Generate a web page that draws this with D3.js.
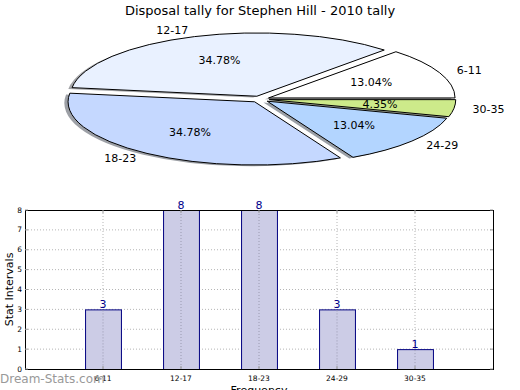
<!DOCTYPE html>
<html><head><meta charset="utf-8">
<script src="https://cdn.jsdelivr.net/npm/d3@7"></script>
<style>
body{margin:0;background:#fff;}
svg{display:block;font-family:"DejaVu Sans",sans-serif;}
</style></head>
<body>
<svg id="c" width="520" height="390"></svg>
<script>
const title = "Disposal tally for Stephen Hill - 2010 tally";
const categories = ["6-11","12-17","18-23","24-29","30-35"];
const counts = [3, 8, 8, 3, 1];
const pieColors = ["#ffffff","#e9f1ff","#c5d8ff","#b3d5ff","#cdea8a"];
const yTicks = [0,1,2,3,4,5,6,7,8];
const xLabel = "Frequency";
const yLabel = "Stat Intervals";
const watermark = "Dream-Stats.com";

const svg = d3.select("#c");
svg.append("rect").attr("width",520).attr("height",390).attr("fill","#fff");

// Title
svg.append("text").attr("x",260).attr("y",15).attr("text-anchor","middle")
  .attr("font-size",13).attr("fill","#000").text(title);

// ---- Pie ----
const cx = 260, cy = 99.2, rx = 186.5, ry = 63.2, explode = 0.05;
const total = d3.sum(counts);
const pie = d3.pie().sort(null).startAngle(Math.PI/2).endAngle(Math.PI/2 - 2*Math.PI);
const arcs = pie(counts);
const unitArc = d3.arc().innerRadius(0).outerRadius(1);

const pg = svg.append("g");
function place(sel, d, extra){
  const m = (d.startAngle + d.endAngle)/2;
  const dx = explode*rx*Math.sin(m) + (extra?extra[0]:0);
  const dy = -explode*ry*Math.cos(m) + (extra?extra[1]:0);
  sel.attr("transform",`translate(${cx+dx},${cy+dy}) scale(${rx},${ry})`);
}
// shadows
arcs.forEach((d,i)=>{
  const c = d3.rgb(pieColors[i]);
  const p = pg.append("path").attr("d", unitArc(d))
    .attr("fill", d3.rgb(c.r*0.3,c.g*0.3,c.b*0.3)).attr("fill-opacity",0.5);
  place(p, d, [-0.02*rx, 0.02*ry]);
});
// wedges
arcs.forEach((d,i)=>{
  const p = pg.append("path").attr("d", unitArc(d))
    .attr("fill", pieColors[i]).attr("stroke","#000").attr("stroke-width",1)
    .attr("vector-effect","non-scaling-stroke");
  place(p, d);
});
// labels
arcs.forEach((d,i)=>{
  const m = (d.startAngle + d.endAngle)/2;
  const ex = explode*rx*Math.sin(m), ey = -explode*ry*Math.cos(m);
  const lx = cx + ex + 1.1*rx*Math.sin(m), ly = cy + ey - 1.1*ry*Math.cos(m);
  pg.append("text").attr("x",lx).attr("y",ly)
    .attr("text-anchor", Math.sin(m) > 0 ? "start" : "end")
    .attr("dominant-baseline","central").attr("font-size",11).text(categories[i]);
  const px = cx + ex + 0.6*rx*Math.sin(m), py = cy + ey - 0.6*ry*Math.cos(m);
  pg.append("text").attr("x",px).attr("y",py).attr("text-anchor","middle")
    .attr("dominant-baseline","central").attr("font-size",11)
    .text((counts[i]/total*100).toFixed(2)+"%");
});

// ---- Bar chart ----
const L=25, R=493, T=210, B=369;
const x = d3.scaleLinear().domain([0, categories.length+1]).range([L,R]);
const y = d3.scaleLinear().domain([0, 8]).range([B,T]);
const bg = svg.append("g");
const bw = 0.46;

// grid
bg.selectAll(".hg").data(yTicks.slice(1,-1)).enter().append("line")
  .attr("x1",L).attr("x2",R).attr("y1",d=>y(d)).attr("y2",d=>y(d))
  .attr("stroke","#b5b5b5").attr("stroke-width",1).attr("stroke-dasharray","1,2");
bg.selectAll(".vg").data(categories).enter().append("line")
  .attr("x1",(d,i)=>x(i+1)).attr("x2",(d,i)=>x(i+1)).attr("y1",T).attr("y2",B)
  .attr("stroke","#b5b5b5").attr("stroke-width",1).attr("stroke-dasharray","1,2");

// bars
bg.selectAll(".bar").data(counts).enter().append("rect")
  .attr("x",(d,i)=>x(i+1-bw/2)+0.5).attr("width",x(bw)-x(0))
  .attr("y",d=>y(d)+0.5).attr("height",d=>y(0)-y(d))
  .attr("fill","#ccccE6").attr("stroke","#000080").attr("stroke-width",1);

// vertical grid over bars (visible through)
bg.selectAll(".vg2").data(counts).enter().append("line")
  .attr("x1",(d,i)=>x(i+1)).attr("x2",(d,i)=>x(i+1)).attr("y1",d=>y(d)+1).attr("y2",B)
  .attr("stroke","#9a9ab0").attr("stroke-width",1).attr("stroke-dasharray","1,2");

// value labels
bg.selectAll(".vl").data(counts).enter().append("text")
  .attr("x",(d,i)=>x(i+1)).attr("y",d=>y(d)-1).attr("text-anchor","middle")
  .attr("font-size",11).attr("fill","#00008b").text(d=>d);

// frame
bg.append("rect").attr("x",L+0.5).attr("y",T+0.5).attr("width",R-L).attr("height",B-T)
  .attr("fill","none").attr("stroke","#000").attr("stroke-width",1);

// y ticks
yTicks.forEach(t=>{
  bg.append("line").attr("x1",L).attr("x2",L+3).attr("y1",y(t)).attr("y2",y(t)).attr("stroke","#999");
  bg.append("line").attr("x1",R-3).attr("x2",R).attr("y1",y(t)).attr("y2",y(t)).attr("stroke","#999");
  bg.append("text").attr("x",L-3).attr("y",y(t)).attr("text-anchor","end")
    .attr("dominant-baseline","central").attr("font-size",7.5).text(t);
});
// x ticks
categories.forEach((c,i)=>{
  bg.append("line").attr("x1",x(i+1)).attr("x2",x(i+1)).attr("y1",B).attr("y2",B-3).attr("stroke","#999");
  bg.append("line").attr("x1",x(i+1)).attr("x2",x(i+1)).attr("y1",T).attr("y2",T+3).attr("stroke","#999");
  bg.append("text").attr("x",x(i+1)).attr("y",B+9).attr("text-anchor","middle")
    .attr("dominant-baseline","central").attr("font-size",7.5).text(c);
});

// axis labels
bg.append("text").attr("transform",`translate(13,${(T+B)/2}) rotate(-90)`)
  .attr("text-anchor","middle").attr("font-size",11).text(yLabel);
bg.append("text").attr("x",(L+R)/2).attr("y",394).attr("text-anchor","middle")
  .attr("font-size",11).text(xLabel);

// watermark
svg.append("text").attr("x",0).attr("y",383).attr("font-size",12)
  .attr("fill","#999").text(watermark);
</script>
</body></html>
